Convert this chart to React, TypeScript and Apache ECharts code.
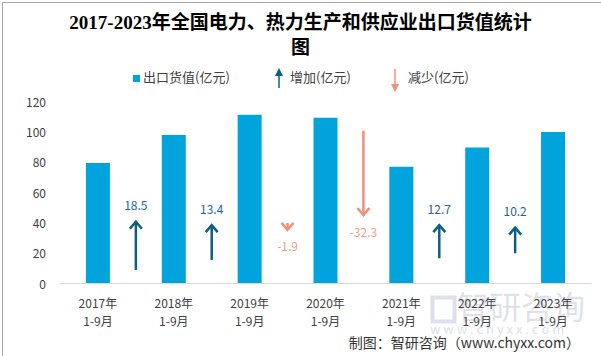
import React, { useEffect, useRef } from "react";
import * as echarts from "echarts";

const categories = ["2017年\n1-9月", "2018年\n1-9月", "2019年\n1-9月", "2020年\n1-9月", "2021年\n1-9月", "2022年\n1-9月", "2023年\n1-9月"];
const exportValues = [79.1, 97.6, 110.9, 109.0, 76.7, 89.4, 99.6];
const changes = [18.5, 13.4, -1.9, -32.3, 12.7, 10.2];
// arrow start / end (in axis units) as drawn in the reference
const arrowFrom = [8.6, 15.2, 39.5, 100.4, 16.3, 19.6];
const arrowTo = [40.4, 38.2, 35.0, 44.8, 38.2, 36.5];
const yTicks = [0, 20, 40, 60, 80, 100, 120];

const BAR = "#00A3DC";
const UP = "#0B5F7F";
const UP_TXT = "#23659A";
const DOWN = "#F0907A";
const DOWN_TXT = "#F2A088";
const SANS = "'Noto Sans CJK SC', 'Noto Sans', sans-serif";

function arrowRender(params: any, api: any) {
  const i = api.value(0);
  const from = api.value(1);
  const to = api.value(2);
  const ch = api.value(3);
  const a = api.coord([i, from]);
  const b = api.coord([i + 1, from]);
  const x = (a[0] + b[0]) / 2;
  const y0 = a[1];
  const y1 = api.coord([i, to])[1];
  const up = ch > 0;
  const dir = y1 < y0 ? -1 : 1; // pixel direction of travel
  const color = up ? UP : DOWN;
  return {
    type: "group",
    children: [
      {
        type: "line",
        shape: { x1: x, y1: y0, x2: x, y2: y1 },
        style: { stroke: color, lineWidth: 2.5 },
      },
      {
        type: "polyline",
        shape: { points: [[x - 6, y1 - dir * 7], [x, y1], [x + 6, y1 - dir * 7]] },
        style: { stroke: color, lineWidth: 2.5, fill: null },
      },
      {
        type: "text",
        style: {
          text: String(ch),
          x,
          y: up ? y1 - 17 : y1 + 16,
          align: "center",
          verticalAlign: "middle",
          fill: up ? UP_TXT : DOWN_TXT,
          font: `12px ${SANS}`,
        },
      },
    ],
  };
}

export default function App() {
  const ref = useRef<HTMLDivElement>(null);
  useEffect(() => {
    document.body.style.margin = "0";
    const chart = echarts.init(ref.current!, null, { renderer: "svg" });
    const upData: number[][] = [];
    const downData: number[][] = [];
    changes.forEach((c, i) => {
      const item = [i, arrowFrom[i], arrowTo[i], c];
      if (c > 0) upData.push(item);
      else downData.push(item);
    });
    chart.setOption({
      animation: false,
      backgroundColor: "#fff",
      title: {
        text: "2017-2023年全国电力、热力生产和供应业出口货值统计\n图",
        left: "center",
        top: 10,
        padding: 0,
        textStyle: {
          fontSize: 19,
          fontWeight: "bold",
          fontFamily: "'Liberation Serif', 'Noto Sans CJK SC', serif",
          color: "#000",
          lineHeight: 25,
        },
      },
      grid: { left: 60, right: 10, top: 101, bottom: 73 },
      xAxis: {
        type: "category",
        data: categories,
        axisTick: { show: false },
        axisLine: { lineStyle: { color: "#d9d9d9", width: 1 } },
        axisLabel: { color: "#404040", fontSize: 12, lineHeight: 18, margin: 10, fontFamily: SANS, interval: 0 },
      },
      yAxis: {
        type: "value",
        min: yTicks[0],
        max: yTicks[yTicks.length - 1],
        interval: 20,
        splitLine: { show: false },
        axisLine: { show: false },
        axisTick: { show: false },
        axisLabel: { color: "#404040", fontSize: 12, margin: 14, fontFamily: SANS },
      },
      series: [
        {
          name: "出口货值(亿元)",
          type: "bar",
          data: exportValues,
          barWidth: 24,
          itemStyle: { color: BAR },
        },
        {
          name: "增加(亿元)",
          type: "custom",
          renderItem: arrowRender,
          data: upData,
          encode: { x: 0, y: [1, 2] },
          z: 5,
        },
        {
          name: "减少(亿元)",
          type: "custom",
          renderItem: arrowRender,
          data: downData,
          encode: { x: 0, y: [1, 2] },
          z: 5,
        },
      ],
      graphic: [
        // watermark
        {
          type: "text",
          left: 457,
          top: 289,
          z: 0,
          style: { text: "智研咨询", font: `32px ${SANS}`, fill: "rgba(160,170,190,0.35)" },
        },
        {
          type: "text",
          left: 430,
          top: 322,
          z: 0,
          style: { text: "w w w . c h y x x . c o m", font: `13px ${SANS}`, fill: "rgba(160,170,190,0.4)" },
        },
        {
          type: "rect",
          left: 430,
          top: 295,
          z: 0,
          shape: { width: 22, height: 24 },
          style: { fill: "none", stroke: "rgba(160,170,200,0.35)", lineWidth: 4 },
        },
        // legend
        { type: "rect", left: 133, top: 75, shape: { width: 7, height: 7 }, style: { fill: BAR } },
        {
          type: "text",
          left: 143,
          top: 70,
          style: { text: "出口货值(亿元)", font: `13px ${SANS}`, fill: "#404040" },
        },
        { type: "line", shape: { x1: 279, y1: 88, x2: 279, y2: 72 }, style: { stroke: UP, lineWidth: 1.5 } },
        { type: "polygon", shape: { points: [[275, 76], [279, 68], [283, 76]] }, style: { fill: UP } },
        {
          type: "text",
          left: 290,
          top: 70,
          style: { text: "增加(亿元)", font: `13px ${SANS}`, fill: "#404040" },
        },
        { type: "line", shape: { x1: 395, y1: 69, x2: 395, y2: 86 }, style: { stroke: DOWN, lineWidth: 1.5 } },
        { type: "polygon", shape: { points: [[391, 84], [395, 92], [399, 84]] }, style: { fill: DOWN } },
        {
          type: "text",
          left: 408,
          top: 70,
          style: { text: "减少(亿元)", font: `13px ${SANS}`, fill: "#404040" },
        },
        // source
        {
          type: "text",
          right: 21,
          top: 335,
          style: { text: "制图：智研咨询（www.chyxx.com）", font: `14px ${SANS}`, fill: "#333" },
        },
        // border
        {
          type: "rect",
          left: 0,
          top: 0,
          silent: true,
          shape: { x: 0.5, y: 0.5, width: 600, height: 355 },
          style: { fill: "none", stroke: "#a6a6a6", lineWidth: 1 },
        },
      ],
    });
    return () => chart.dispose();
  }, []);
  return <div ref={ref} style={{ width: 601, height: 356 }} />;
}
